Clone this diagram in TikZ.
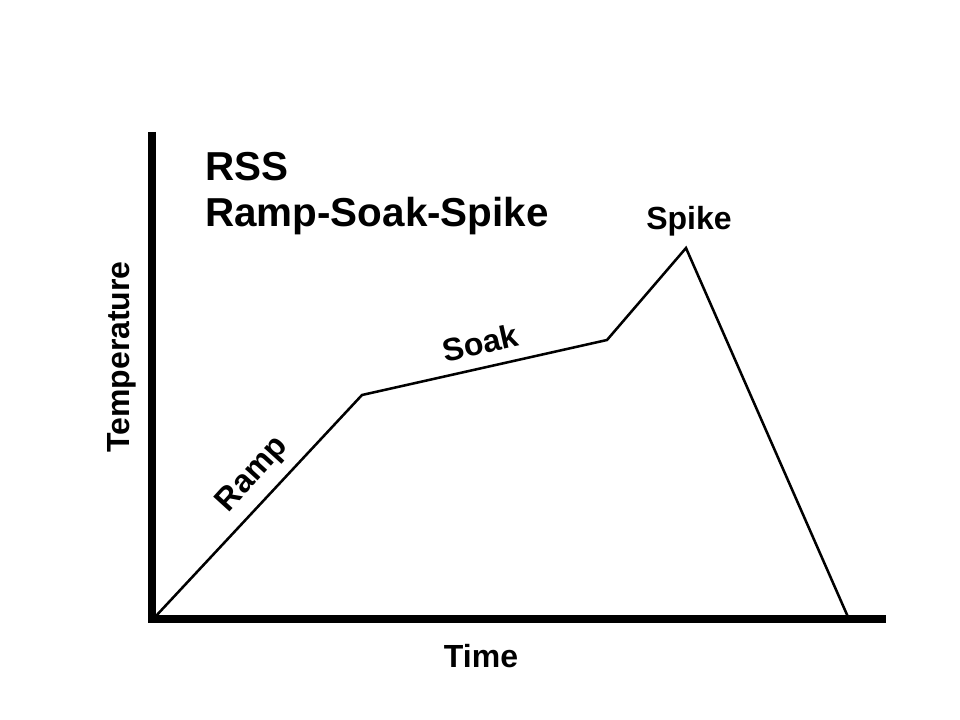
\documentclass[tikz,border=0pt]{standalone}
\usepackage{fontspec}
\setmainfont{Liberation Sans}
\usetikzlibrary{positioning}
\begin{document}
\begin{tikzpicture}[x=0.75pt,y=-0.75pt,every node/.style={inner sep=0pt,font=\bfseries\fontsize{24}{28}\selectfont},
  axis/.style={line width=5.6pt},curve/.style={line width=1.9pt,line join=miter},
  titletext/.style={anchor=base west,font=\bfseries\fontsize{30.3}{36}\selectfont}]
  \useasboundingbox (0,0) rectangle (960,720);
  \coordinate (top) at (152,132);
  \coordinate (o) at (152,619);
  \coordinate (end) at (886,619);
  \coordinate (t0) at (155,617);
  \coordinate (ramp) at (362,395);
  \coordinate (soak) at (607,340);
  \coordinate (spike) at (686,248);
  \coordinate (cool) at (848,617);
  \draw[axis](top)--(o)--(end);
  \draw[curve](t0)--(ramp)--(soak)--(spike)--(cool);
  \node[titletext] (rss) at (205,181) {RSS};
  \node[titletext] (rsslong) at (205,227) {Ramp-Soak-Spike};
  \node[anchor=base] (spikelbl) at (689,230) {Spike};
  \node[rotate=12.6] (soaklbl) at (480,343) {Soak};
  \node[rotate=47.7] (ramplbl) at (253,475) {Ramp};
  \node[rotate=90] (templbl) at (122,357) {Temperature};
  \node[anchor=base] (timelbl) at (481,667) {Time};
\end{tikzpicture}
\end{document}
